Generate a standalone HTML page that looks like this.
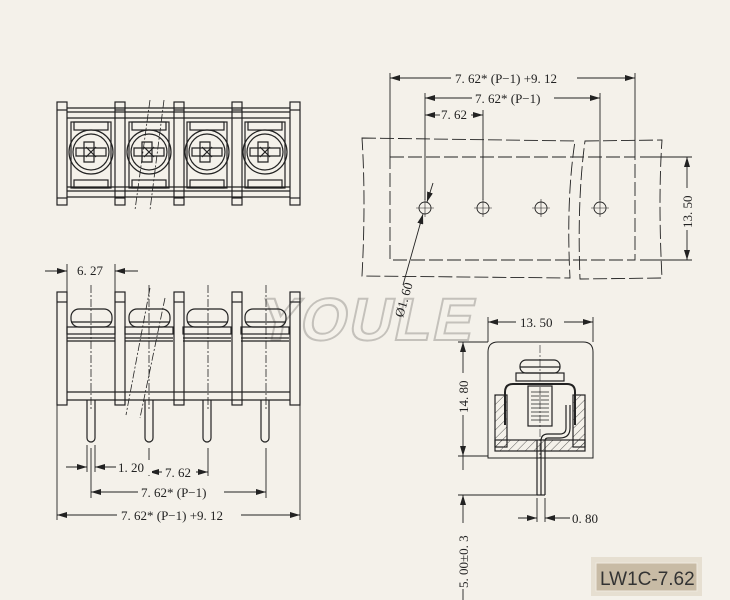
<!DOCTYPE html>
<html><head><meta charset="utf-8"><style>
html,body{margin:0;padding:0;background:#f4f1ea;}
svg{display:block}
text{font-family:"Liberation Serif",serif;font-size:13px;fill:#222;}
</style></head><body>
<svg width="730" height="600" viewBox="0 0 730 600" xmlns="http://www.w3.org/2000/svg">
<defs>
<marker id="a" viewBox="0 0 10 6" refX="10" refY="3" markerWidth="10" markerHeight="6" orient="auto-start-reverse" markerUnits="userSpaceOnUse"><path d="M0,0L10,3L0,6z" fill="#222"/></marker>
<pattern id="h" width="6" height="6" patternUnits="userSpaceOnUse" patternTransform="rotate(45)"><line x1="0" y1="0" x2="0" y2="6" stroke="#333" stroke-width="0.8"/></pattern>
</defs>
<rect width="730" height="600" fill="#f4f1ea"/>

<!-- watermark -->
<text x="262" y="340" transform="skewX(-12) translate(66,0)" style="font-family:'Liberation Sans',sans-serif;font-weight:bold;font-size:60px;fill:none;stroke:#c4c1bb;stroke-width:2;letter-spacing:2px">YOULE</text>

<g stroke="#222" fill="none" stroke-width="1.2">
<!-- TOP LEFT VIEW -->
<g>
<line x1="67" y1="108" x2="290" y2="108"/><line x1="67" y1="112" x2="290" y2="112"/><line x1="67" y1="118" x2="290" y2="118"/>
<line x1="67" y1="187" x2="290" y2="187"/><line x1="67" y1="191" x2="290" y2="191"/><line x1="67" y1="197" x2="290" y2="197"/>
<rect x="57" y="102" width="10" height="103"/><rect x="115" y="102" width="10" height="103"/><rect x="174" y="102" width="10" height="103"/><rect x="232" y="102" width="10" height="103"/><rect x="290" y="102" width="10" height="103"/>
<line x1="57" y1="110" x2="67" y2="110"/><line x1="57" y1="198" x2="67" y2="198"/>
<line x1="115" y1="110" x2="125" y2="110"/><line x1="115" y1="198" x2="125" y2="198"/>
<line x1="174" y1="110" x2="184" y2="110"/><line x1="174" y1="198" x2="184" y2="198"/>
<line x1="232" y1="110" x2="242" y2="110"/><line x1="232" y1="198" x2="242" y2="198"/>
<line x1="290" y1="110" x2="300" y2="110"/><line x1="290" y1="198" x2="300" y2="198"/>
</g>
<g id="scr">
<rect x="71" y="122" width="40" height="66"/>
<rect x="74" y="122" width="34" height="8"/><rect x="74" y="180" width="34" height="8"/>
<circle cx="91" cy="152" r="22"/><circle cx="91" cy="152" r="18"/>
<path d="M84,142h10v20h-10z M76,148h30v8h-30z"/>
<line x1="86" y1="147" x2="96" y2="157"/><line x1="96" y1="147" x2="86" y2="157"/>
</g>
<use href="#scr" x="58"/><use href="#scr" x="116"/><use href="#scr" x="174"/>
<g stroke-width="0.8" stroke-dasharray="8 2 2 2">
<line x1="150" y1="100" x2="135" y2="210"/><line x1="164" y1="100" x2="150" y2="210"/>
</g>

<!-- FRONT VIEW -->
<rect x="57" y="292" width="10" height="113"/><rect x="115" y="292" width="10" height="113"/><rect x="174" y="292" width="10" height="113"/><rect x="232" y="292" width="10" height="113"/><rect x="290" y="292" width="10" height="113"/>
<line x1="57" y1="302" x2="67" y2="302"/><line x1="115" y1="302" x2="125" y2="302"/><line x1="174" y1="302" x2="184" y2="302"/><line x1="232" y1="302" x2="242" y2="302"/><line x1="290" y1="302" x2="300" y2="302"/>
<line x1="67" y1="392" x2="290" y2="392"/><line x1="67" y1="400" x2="290" y2="400"/>
<g id="fs">
<rect x="71" y="309" width="41" height="18" rx="8"/><line x1="71" y1="322" x2="112" y2="322"/>
<rect x="67" y="327" width="48" height="7"/><line x1="67" y1="338" x2="115" y2="338"/><line x1="67" y1="341" x2="115" y2="341"/>
<path d="M87,400v38a4,4 0 0 0 8,0v-38"/>
</g>
<use href="#fs" x="58"/><use href="#fs" x="116"/><use href="#fs" x="174"/>
<g stroke-width="0.8" stroke-dasharray="8 2 2 2">
<line x1="150" y1="288" x2="126" y2="415"/><line x1="165" y1="298" x2="140" y2="418"/>
<line x1="91" y1="285" x2="91" y2="410"/><line x1="149" y1="285" x2="149" y2="410"/><line x1="208" y1="285" x2="208" y2="410"/><line x1="266" y1="285" x2="266" y2="410"/>
</g>

<!-- front dims -->
<g stroke-width="0.9">
<line x1="67" y1="264" x2="67" y2="292"/><line x1="115" y1="264" x2="115" y2="292"/>
<line x1="45" y1="271" x2="67" y2="271" marker-end="url(#a)"/><line x1="138" y1="271" x2="115" y2="271" marker-end="url(#a)"/>
<line x1="57" y1="405" x2="57" y2="520"/><line x1="300" y1="405" x2="300" y2="520"/>
<line x1="87" y1="445" x2="87" y2="472"/><line x1="95" y1="445" x2="95" y2="472"/>
<line x1="91" y1="448" x2="91" y2="498"/><line x1="149" y1="448" x2="149" y2="476"/><line x1="208" y1="448" x2="208" y2="476"/><line x1="266" y1="448" x2="266" y2="498"/>
<line x1="66" y1="467" x2="87" y2="467" marker-end="url(#a)"/><line x1="116" y1="467" x2="95" y2="467" marker-end="url(#a)"/>
<line x1="149" y1="472" x2="208" y2="472" marker-start="url(#a)" marker-end="url(#a)"/>
<line x1="91" y1="492" x2="266" y2="492" marker-start="url(#a)" marker-end="url(#a)"/>
<line x1="57" y1="515" x2="300" y2="515" marker-start="url(#a)" marker-end="url(#a)"/>
</g>

<!-- RIGHT TOP VIEW -->
<g stroke-width="0.9" stroke-dasharray="14 4">
<path d="M362,138 L575,141 Q566,200 570,278 L362,276 Q366,200 362,138z"/>
<path d="M585,141 L662,140 Q658,200 662,278 L580,279 Q577,200 585,141z"/>
<path d="M390,157 L635,157 L635,260 L390,260z"/>
</g>
<g stroke-width="0.9">
<circle cx="425" cy="208" r="6"/><circle cx="483" cy="208" r="6"/><circle cx="541" cy="208" r="6"/><circle cx="600" cy="208" r="6"/>
<g stroke-width="0.6"><line x1="416" y1="208" x2="434" y2="208"/><line x1="425" y1="199" x2="425" y2="217"/><line x1="474" y1="208" x2="492" y2="208"/><line x1="483" y1="199" x2="483" y2="217"/><line x1="532" y1="208" x2="550" y2="208"/><line x1="541" y1="199" x2="541" y2="217"/><line x1="591" y1="208" x2="609" y2="208"/><line x1="600" y1="199" x2="600" y2="217"/></g>
<line x1="390" y1="73" x2="390" y2="157"/><line x1="635" y1="73" x2="635" y2="157"/>
<line x1="425" y1="93" x2="425" y2="200"/><line x1="600" y1="93" x2="600" y2="200"/><line x1="483" y1="110" x2="483" y2="200"/>
<line x1="390" y1="78" x2="635" y2="78" marker-start="url(#a)" marker-end="url(#a)"/>
<line x1="425" y1="98" x2="600" y2="98" marker-start="url(#a)" marker-end="url(#a)"/>
<line x1="425" y1="115" x2="440" y2="115" marker-start="url(#a)"/><line x1="471" y1="115" x2="483" y2="115" marker-end="url(#a)"/>
<line x1="640" y1="157" x2="692" y2="157"/><line x1="640" y1="260" x2="692" y2="260"/>
<line x1="687" y1="157" x2="687" y2="260" marker-start="url(#a)" marker-end="url(#a)"/>
<line x1="433" y1="183" x2="427" y2="202" marker-end="url(#a)"/>
<line x1="403" y1="285" x2="423" y2="214" marker-end="url(#a)"/>
</g>

<!-- SIDE VIEW -->
<path d="M488,458 L488,352 Q488,342 498,342 L583,342 Q593,342 593,352 L593,458z" stroke-width="1"/>
<rect x="495" y="395" width="12" height="52" fill="url(#h)"/><rect x="573" y="395" width="12" height="52" fill="url(#h)"/>
<rect x="495" y="440" width="90" height="11" fill="url(#h)"/>
<rect x="520" y="360" width="40" height="13" rx="6"/><line x1="520" y1="367" x2="560" y2="367"/>
<rect x="516" y="373" width="48" height="8"/>
<path d="M505,425 L505,392 Q505,384 513,384 L567,384 Q575,384 575,392 L575,425" stroke-width="2"/>
<rect x="528" y="386" width="24" height="40"/>
<g stroke-width="0.8"><line x1="531" y1="392" x2="549" y2="392"/><line x1="531" y1="396" x2="549" y2="396"/><line x1="531" y1="400" x2="549" y2="400"/><line x1="531" y1="404" x2="549" y2="404"/><line x1="531" y1="408" x2="549" y2="408"/><line x1="531" y1="412" x2="549" y2="412"/><line x1="531" y1="416" x2="549" y2="416"/><line x1="531" y1="420" x2="549" y2="420"/></g>
<path d="M566,405 L566,428 Q566,434 560,434 L548,434 Q541,434 541,441 L541,495 M545,495 L545,441 Q545,438 548,438 L560,438 Q570,438 570,428 L570,405" stroke-width="1.2"/>
<line x1="537" y1="440" x2="537" y2="495"/><line x1="537" y1="495" x2="545" y2="495"/>
<line x1="540" y1="345" x2="540" y2="458" stroke-width="0.6" stroke-dasharray="8 2 2 2"/>
<g stroke-width="0.9">
<line x1="488" y1="317" x2="488" y2="342"/><line x1="593" y1="317" x2="593" y2="342"/>
<line x1="488" y1="322" x2="593" y2="322" marker-start="url(#a)" marker-end="url(#a)"/>
<line x1="458" y1="342" x2="488" y2="342"/><line x1="458" y1="456" x2="488" y2="456"/><line x1="458" y1="495" x2="537" y2="495"/>
<line x1="463" y1="342" x2="463" y2="456" marker-start="url(#a)" marker-end="url(#a)"/>
<line x1="463" y1="495" x2="463" y2="600" marker-start="url(#a)"/>
<line x1="463" y1="456" x2="463" y2="470" />
<line x1="537" y1="498" x2="537" y2="522"/><line x1="545" y1="498" x2="545" y2="522"/>
<line x1="518" y1="518" x2="537" y2="518" marker-end="url(#a)"/><line x1="570" y1="518" x2="545" y2="518" marker-end="url(#a)"/>
</g>
</g>

<!-- labels -->
<g>
<rect x="72" y="263" width="38" height="15" fill="#f4f1ea"/><text x="77" y="275">6. 27</text>
<rect x="116" y="460" width="36" height="15" fill="#f4f1ea"/><text x="118" y="472">1. 20</text>
<rect x="162" y="465" width="34" height="15" fill="#f4f1ea"/><text x="165" y="477">7. 62</text>
<rect x="138" y="485" width="86" height="15" fill="#f4f1ea"/><text x="141" y="497">7. 62* (P−1)</text>
<rect x="117" y="508" width="124" height="15" fill="#f4f1ea"/><text x="121" y="520">7. 62* (P−1) +9. 12</text>
<rect x="451" y="71" width="126" height="15" fill="#f4f1ea"/><text x="455" y="83">7. 62* (P−1) +9. 12</text>
<rect x="472" y="91" width="82" height="15" fill="#f4f1ea"/><text x="475" y="103">7. 62* (P−1)</text>
<text x="441" y="119">7. 62</text>
<rect x="680" y="188" width="15" height="42" fill="#f4f1ea"/><text transform="translate(692,228) rotate(-90)">13. 50</text>
<text transform="translate(403,318) rotate(-74)">Ø1. 60</text>
<rect x="516" y="315" width="48" height="15" fill="#f4f1ea"/><text x="520" y="327">13. 50</text>
<rect x="456" y="373" width="15" height="42" fill="#f4f1ea"/><text transform="translate(468,413) rotate(-90)">14. 80</text>
<text x="572" y="523">0. 80</text>
<rect x="456" y="523" width="15" height="66" fill="#f4f1ea"/><text transform="translate(468,588) rotate(-90)">5. 00±0. 3</text>
</g>

<rect x="591" y="557" width="111" height="39" fill="#e6dfd1"/>
<rect x="596" y="563" width="101" height="28" fill="#c8bba5" stroke="#efe9de" stroke-width="1"/>
<text x="600" y="585" style="font-family:'Liberation Sans',sans-serif;font-size:19px;fill:#333">LW1C-7.62</text>
</svg>
</body></html>
